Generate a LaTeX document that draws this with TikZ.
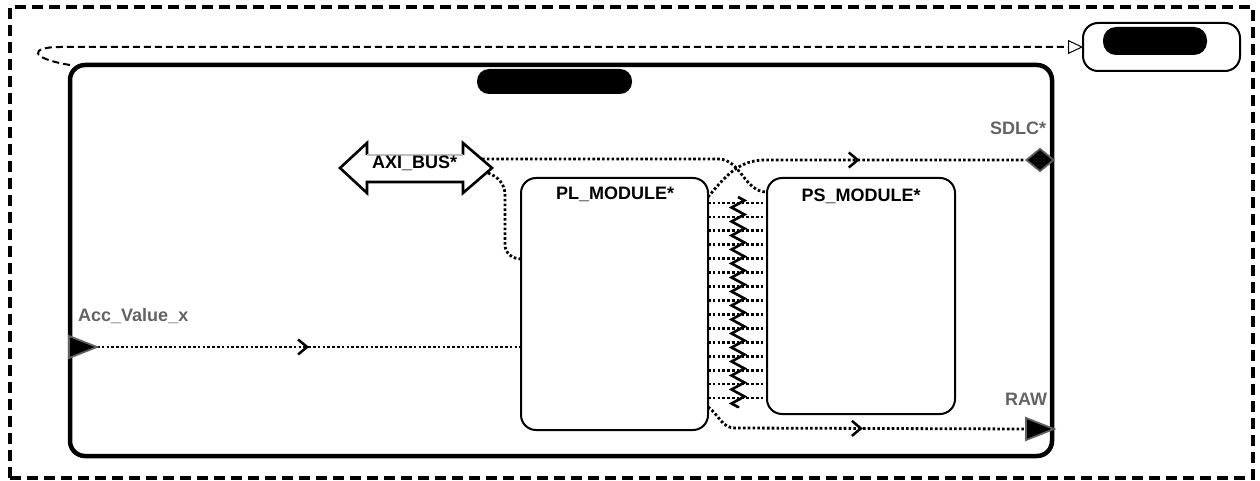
\documentclass[tikz,border=0pt]{standalone}
\usepackage{fontspec}
\setmainfont{Liberation Sans}
\usetikzlibrary{arrows.meta,decorations.markings,decorations.pathmorphing,shapes.geometric,calc}
\definecolor{lblgray}{HTML}{636363}
\definecolor{portgray}{HTML}{606060}
\begin{document}
\begin{tikzpicture}[x=1pt,y=-1pt,
  frame/.style={draw, line width=3.8pt, dash pattern=on 11pt off 6pt, inner sep=0pt, outer sep=0pt},
  box/.style={draw, rounded corners=15pt, line width=2pt, inner sep=0pt, outer sep=0pt},
  sysbox/.style={box, line width=4.5pt},
  blob/.style={fill=black, rounded corners=12pt, inner sep=0pt},
  txt/.style={font=\bfseries\fontsize{18}{21}\selectfont, inner sep=0pt},
  lbl/.style={txt, text=lblgray},
  dotline/.style={line width=2.8pt, dash pattern=on 2.6pt off 2.2pt},
  dashline/.style={line width=2pt, dash pattern=on 7pt off 4pt},
  midarrow/.style={postaction={decorate}, decoration={markings, mark=at position 0.5 with {\arrow[line width=2.5pt]{Straight Barb[length=9pt,width=15pt]}}}},
  porttri/.style={fill=black, draw=portgray, line width=1.8pt, line join=miter},
  zig/.style={line width=2.6pt, decorate, decoration={zigzag, segment length=14pt, amplitude=6.5pt}}
]
\useasboundingbox (0,0) rectangle (1260,481);

% outer dashed frame
\node[frame, minimum width=1243pt, minimum height=471pt] (frame) at (631.5,242.5) {};

% main system box
\node[sysbox, minimum width=982pt, minimum height=391pt] (sys) at (561,260.5) {};
\node[blob, minimum width=155pt, minimum height=25pt] (titleblob) at (554.5,81.5) {};

% external box
\node[box, minimum width=157pt, minimum height=48pt] (ext) at (1161.5,47) {};
\node[blob, minimum width=104pt, minimum height=28pt, rounded corners=13pt] (extblob) at (1155,41) {};

% modules
\node[box, minimum width=187pt, minimum height=252pt] (pl) at (614.5,304) {};
\node[box, minimum width=188pt, minimum height=236pt] (ps) at (861,296) {};
\node[txt, anchor=base] (pltitle) at (615,200) {PL\_MODULE*};
\node[txt, anchor=base] (pstitle) at (861,201) {PS\_MODULE*};

% AXI bus double arrow
\draw[line width=2.6pt, line join=miter] (367,155) -- (367,143) -- (340,168) -- (367,193) -- (367,182) -- (463,182) -- (463,193) -- (492,168) -- (463,143) -- (463,155);
\draw[line width=1.5pt, black!25] (367,155) -- (463,155);
\node[txt, anchor=base west] (axi) at (372,168) {AXI\_BUS*};
\coordinate (axiA) at (482,159);
\coordinate (axiB) at (488,173);

% ports
\coordinate (acctip) at (97,347);
\coordinate (rawbase) at (1026,429);
\node[diamond, fill=black, draw=portgray, line width=1.8pt, minimum width=28pt, minimum height=23pt, inner sep=0pt] (sdlc) at (1040,160) {};

% top dashed connector
\draw[dashline, -{Triangle[open, fill=white, length=15pt, width=14pt, line width=1pt]}]
  (sys.north west) .. controls (28,58) and (30,47) .. (60,47) -- (ext.west);

% connectors
\draw[dotline] (axiA) -- (718,159) to[out=0,in=180] (ps.west |- 0,192);
\draw[dotline, midarrow] (pl.east |- 0,197) to[out=50,in=180] (765,160) -- (sdlc.west);
\draw[dotline] (axiB) to[out=-20,in=90] (505,195) -- (505,245) to[out=-90,in=180] (pl.west |- 0,259);
\draw[dotline, midarrow] (acctip) -- (pl.west |- acctip);
\draw[dotline, midarrow] (pl.east |- 0,407) to[out=-35,in=180] (735,428) -- (rawbase);

% bundle between PL and PS
\foreach \i in {0,...,14} {
  \pgfmathsetmacro\yy{203+13.93*\i}
  \draw[dotline] (pl.east |- 0,\yy) -- (ps.west |- 0,\yy);
}
\draw[zig] (738,197) -- (738,408);

% port shapes
\draw[porttri] (69,336) -- (acctip) -- (69,358) -- cycle;
\draw[porttri] (1026,418) -- (1054,429) -- (1026,440) -- cycle;

% labels
\node[lbl, anchor=base west] (acclbl) at (78,321) {Acc\_Value\_x};
\node[lbl, anchor=base west] (sdlclbl) at (990,135) {SDLC*};
\node[lbl, anchor=base west] (rawlbl) at (1005,405) {RAW};
\end{tikzpicture}
\end{document}
